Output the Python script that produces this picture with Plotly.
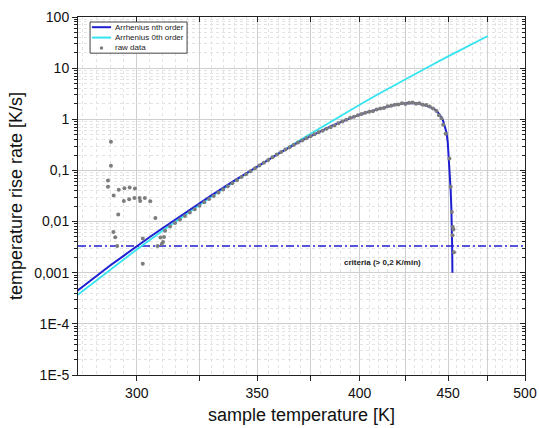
import plotly.graph_objects as go

# ---------------- data ----------------
# Arrhenius 0th order fit
fit0_T = [278, 290, 300, 310, 320, 330, 340, 350, 360, 370, 380, 390, 400,
          410, 420, 430, 440, 450, 460, 475]
fit0_rate = [3.6e-4, 1.16e-3, 2.85e-3, 6.6e-3, 0.0145, 0.0305, 0.0612, 0.118,
             0.22, 0.395, 0.69, 1.17, 1.93, 3.11, 4.9, 7.57, 11.4, 17.0, 24.8, 42.4]

# Arrhenius nth order fit
fitn_T = [278, 285, 290, 295, 300, 305, 310, 320, 330, 340, 350, 360, 370, 375,
          380, 385, 390, 395, 400, 405, 410, 415, 420, 425, 428, 431, 435, 438,
          441, 443, 445, 446, 447, 448, 449, 449.8, 450.5, 451.1, 451.6, 452.0,
          452.3, 452.5, 452.65]
fitn_rate = [4.37e-4, 8.7e-4, 1.38e-3, 2.14e-3, 3.31e-3, 5.0e-3, 7.4e-3, 0.0158,
             0.0327, 0.0641, 0.119, 0.215, 0.369, 0.468, 0.589, 0.724, 0.881,
             1.06, 1.23, 1.41, 1.58, 1.77, 1.94, 2.07, 2.10, 2.08, 1.93, 1.80,
             1.64, 1.48, 1.23, 1.10, 0.93, 0.72, 0.56, 0.355, 0.178, 0.0794,
             0.0398, 0.0178, 0.0089, 0.00316, 0.001]

# raw data
raw_T = [290.3, 290.3, 289.2, 289.2, 291.3, 293.2, 295.3, 297.3, 299.3, 295.1,
         297.1, 299.1, 301.1, 303.1, 301.3, 305.2, 293.0, 307.2, 291.2, 291.9,
         292.6, 302.3, 302.3, 308.0, 309.2, 310.6, 310.2, 309.7,
         311, 313, 315, 317, 319, 321, 323, 325, 327, 329, 331, 333, 335, 337,
         339, 341, 343, 345, 347, 349, 351, 353, 355, 357, 359, 361, 363, 365,
         367, 369, 371, 373, 375, 377, 379, 381, 383, 385, 387, 389, 391, 393,
         395, 397, 399, 401, 403, 405, 407, 409, 411, 413, 415, 417, 419, 421,
         423, 425, 427, 429, 431, 433, 435, 437, 439, 441, 443, 444.5, 446, 447,
         448.5, 450.8, 451.6, 452.3, 452.9, 453.3, 452.7, 453.6]
raw_rate = [0.364, 0.123, 0.0637, 0.0477, 0.0323, 0.0417, 0.045, 0.0465, 0.0444,
            0.0253, 0.0274, 0.029, 0.029, 0.029, 0.0253, 0.025, 0.0137, 0.0118,
            0.00626, 0.00492, 0.00333, 0.00465, 0.0015, 0.00333, 0.0049, 0.00497,
            0.00398, 0.00363,
            0.0066, 0.0080, 0.0094, 0.0110, 0.0128, 0.0150, 0.0175, 0.0205, 0.0238,
            0.0275, 0.0318, 0.0370, 0.0425, 0.0490, 0.0560, 0.0645, 0.0740, 0.0845,
            0.0960, 0.110, 0.125, 0.142, 0.160, 0.181, 0.204, 0.229, 0.257, 0.285,
            0.318, 0.352, 0.385, 0.425, 0.465, 0.51, 0.56, 0.60, 0.65, 0.70, 0.76,
            0.84, 0.91, 0.98, 1.07, 1.12, 1.20, 1.27, 1.34, 1.40, 1.43, 1.55, 1.62,
            1.66, 1.80, 1.84, 1.92, 1.95, 2.05, 2.00, 2.10, 2.12, 2.02, 2.05, 1.92,
            1.90, 1.78, 1.62, 1.45, 1.20, 1.05, 0.78, 0.52, 0.172, 0.048, 0.0154,
            0.0078, 0.0070, 0.0054, 0.0025]

criteria_rate = 0.2 / 60  # 0,2 K/min in K/s

series_names = ["Arrhenius nth order", "Arrhenius 0th order", "raw data"]

x_ticks = [300, 325, 350, 375, 400, 425, 450, 475, 500]
x_ticktext = ["300", "", "350", "", "400", "", "450", "", "500"]
y_ticks = [1e-5, 1e-4, 1e-3, 1e-2, 1e-1, 1, 10, 100]
y_ticktext = ["1E-5", "1E-4", "0,001", "0,01", "0,1", "1", "10", "100"]
T_min, T_max = 278.4, 500


# Origin "offset reciprocal" temperature scale: 1/(T + 273.15)
def recip(t):
    return 1000.0 / (t + 273.15)


def rx(seq):
    return [recip(t) for t in seq]


BLUE = "#1f1fd2"
CYAN = "#35e4ef"
GRAY = "#7d7d7d"
FONT = "Liberation Sans, Arial, sans-serif"

fig = go.Figure()

fig.add_trace(go.Scatter(
    x=rx([T_min, T_max]), y=[criteria_rate, criteria_rate], mode="lines",
    line=dict(color=BLUE, width=1.6, dash="8px,3px,2px,3px"),
    showlegend=False, hoverinfo="skip"))

fig.add_trace(go.Scatter(
    x=rx(fit0_T), y=fit0_rate, mode="lines", name=series_names[1],
    line=dict(color=CYAN, width=1.8), showlegend=False))

fig.add_trace(go.Scatter(
    x=rx(fitn_T), y=fitn_rate, mode="lines", name=series_names[0],
    line=dict(color=BLUE, width=2), showlegend=False))

fig.add_trace(go.Scatter(
    x=rx(raw_T), y=raw_rate, mode="markers", name=series_names[2],
    marker=dict(color=GRAY, size=4, line=dict(width=0)), showlegend=False))

# helper trace for the mirrored frame axes
fig.add_trace(go.Scatter(x=[None], y=[None], xaxis="x2", yaxis="y2",
                         showlegend=False, hoverinfo="skip"))

fig.add_annotation(x=recip(412), y=-2.80, text="<b>criteria (> 0,2 K/min)</b>",
                   showarrow=False, font=dict(size=8, color="#222222", family=FONT))

# ---- compact Origin-style legend box (paper coordinates of the plot area) ----
fig.add_shape(type="rect", xref="paper", yref="paper", x0=0.027, x1=0.244,
              y0=0.899, y1=0.986, line=dict(color="#444444", width=1),
              fillcolor="white", layer="above")
leg_rows = [0.9715, 0.9425, 0.9135]
fig.add_shape(type="line", xref="paper", yref="paper", x0=0.031, x1=0.074,
              y0=leg_rows[0], y1=leg_rows[0], line=dict(color=BLUE, width=2),
              layer="above")
fig.add_shape(type="line", xref="paper", yref="paper", x0=0.031, x1=0.074,
              y0=leg_rows[1], y1=leg_rows[1], line=dict(color=CYAN, width=2),
              layer="above")
fig.add_shape(type="circle", xref="paper", yref="paper", x0=0.0485, x1=0.0565,
              y0=leg_rows[2] - 0.005, y1=leg_rows[2] + 0.005,
              line=dict(width=0), fillcolor=GRAY, layer="above")
for name, yy in zip(series_names, leg_rows):
    fig.add_annotation(xref="paper", yref="paper", x=0.079, y=yy, text=name,
                       showarrow=False, xanchor="left", yanchor="middle",
                       font=dict(size=8, color="#222222", family=FONT))

xrange = [recip(T_min), recip(T_max)]
x_minor = [t for t in range(280, 500, 5) if t % 25 != 0]
y_minor = [m * 10.0 ** k for k in range(-5, 2) for m in range(2, 10)]

fig.update_layout(
    width=539, height=428,
    margin=dict(l=78, r=14, t=17, b=53, autoexpand=False),
    paper_bgcolor="white", plot_bgcolor="white",
    font=dict(family=FONT, color="#111111"),
    showlegend=False,
    xaxis=dict(
        range=xrange, tickmode="array", tickvals=rx(x_ticks), ticktext=x_ticktext,
        ticks="outside", ticklen=5, tickcolor="#222222", showline=True,
        linecolor="#222222", linewidth=1, showgrid=True, gridcolor="#cfcfcf",
        gridwidth=1, zeroline=False, tickfont=dict(size=14), automargin=False,
        title=dict(text="sample temperature [K]", font=dict(size=18), standoff=8),
        minor=dict(tickmode="array", tickvals=rx(x_minor), ticks="",
                   showgrid=True, gridcolor="#e3e3e3", griddash="dot", gridwidth=1)),
    xaxis2=dict(
        range=xrange, overlaying="x", side="top", anchor="y", tickmode="array",
        tickvals=rx(x_ticks), ticktext=[""] * len(x_ticks), ticks="inside",
        ticklen=5, tickcolor="#222222", showline=True, linecolor="#222222",
        linewidth=1, showgrid=False, zeroline=False, showticklabels=False,
        automargin=False),
    yaxis=dict(
        type="log", range=[-5, 2], tickmode="array", tickvals=y_ticks,
        ticktext=y_ticktext, ticks="outside", ticklen=5, tickcolor="#222222",
        showline=True, linecolor="#222222", linewidth=1, showgrid=True,
        gridcolor="#cfcfcf", gridwidth=1, zeroline=False, tickfont=dict(size=14),
        automargin=False,
        title=dict(text="temperature rise rate [K/s]", font=dict(size=18), standoff=6),
        minor=dict(tickmode="array", tickvals=y_minor, ticks="outside", ticklen=3,
                   tickcolor="#222222", showgrid=True, gridcolor="#e3e3e3",
                   griddash="dot", gridwidth=1)),
    yaxis2=dict(
        type="log", range=[-5, 2], overlaying="y", side="right", anchor="x",
        tickmode="array", tickvals=y_ticks, ticktext=[""] * len(y_ticks),
        ticks="inside", ticklen=5, tickcolor="#222222", showline=True,
        linecolor="#222222", linewidth=1, showgrid=False, zeroline=False,
        showticklabels=False, automargin=False,
        minor=dict(tickmode="array", tickvals=y_minor, ticks="inside", ticklen=3,
                   tickcolor="#222222")),
)

fig.write_html("out.html",
               config={"displayModeBar": False},
               post_script="document.body.style.margin='0';"
                           "document.body.style.padding='0';")
